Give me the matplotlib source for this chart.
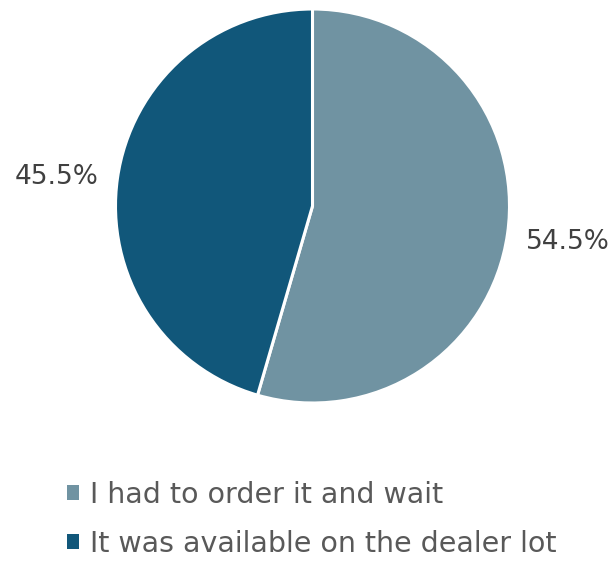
import matplotlib
matplotlib.use('Agg')
import matplotlib.pyplot as plt
from matplotlib.patches import Patch

labels = ['I had to order it and wait', 'It was available on the dealer lot']
values = [54.5, 45.5]
colors = ['#7093a2', '#11577a']

plt.rcParams['font.family'] = ['DejaVu Sans Condensed', 'DejaVu Sans']

fig = plt.figure(figsize=(6.13, 5.61), dpi=100)
W, H = 613, 561
cx, cy, r = 312.5, 206, 197
ax = fig.add_axes([(cx - r) / W, (H - cy - r) / H, 2 * r / W, 2 * r / H])

wedges, texts = ax.pie(values, colors=colors, startangle=90, counterclock=False,
                       labels=[f'{v:.1f}%' for v in values], labeldistance=1.31,
                       wedgeprops=dict(edgecolor='white', linewidth=2.2),
                       textprops=dict(color='#404040', fontsize=19))
ax.set_xlim(-1, 1)
ax.set_ylim(-1, 1)
for t in texts:
    t.set_horizontalalignment('center')
    t.set_verticalalignment('center')
# small nudge of the left label, as in the original
x, y = texts[1].get_position()
texts[1].set_position((x, y - 0.035))

handles = [Patch(facecolor=c, edgecolor='none') for c in colors]
fig.legend(handles, labels, loc='upper left', bbox_to_anchor=(41 / W, 1 - 455 / H),
           frameon=False, fontsize=20.5, labelcolor='#595959', handlelength=0.42,
           handleheight=0.42, handletextpad=0.4, labelspacing=0.75)

fig.savefig('out.png', dpi=100)
